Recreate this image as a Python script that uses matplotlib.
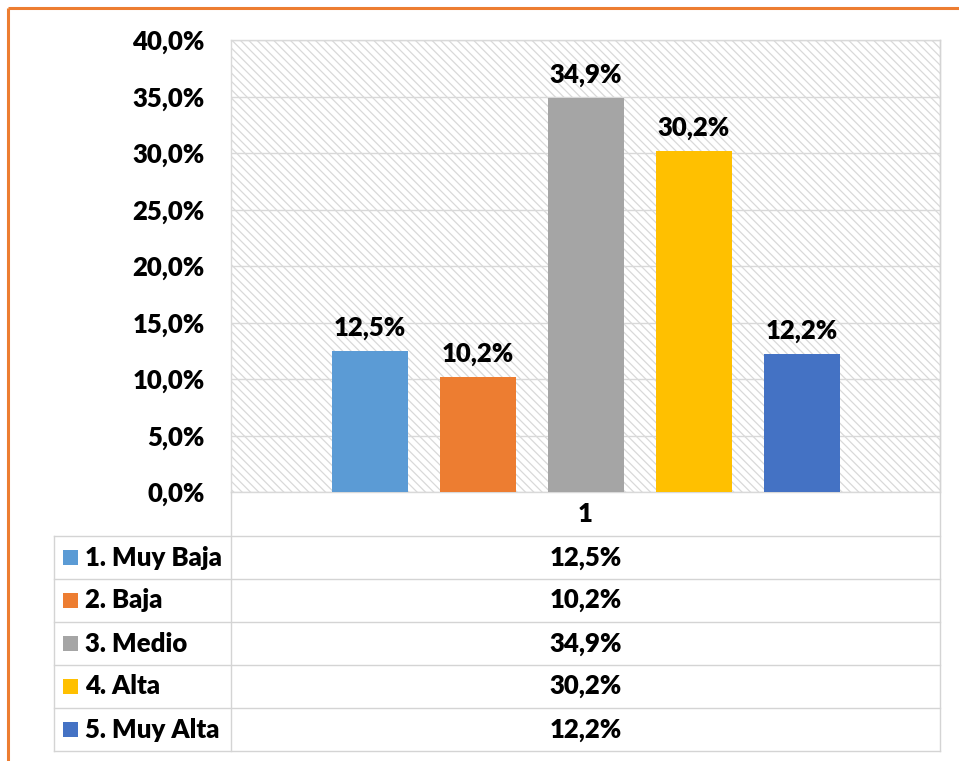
import matplotlib
matplotlib.use('Agg')
import matplotlib.pyplot as plt
from matplotlib.patches import Rectangle
from matplotlib.ticker import FuncFormatter

categories = ['1. Muy Baja', '2. Baja', '3. Medio', '4. Alta', '5. Muy Alta']
values = [12.5, 10.2, 34.9, 30.2, 12.2]
colors = ['#5B9BD5', '#ED7D31', '#A5A5A5', '#FFC000', '#4472C4']
group_label = '1'
y_ticks = [0, 5, 10, 15, 20, 25, 30, 35, 40]


def pct(v):
    return f'{v:.1f}'.replace('.', ',') + '%'


W, H = 959, 761
plt.rcParams['hatch.linewidth'] = 0.9
FONT = ['Lato', 'DejaVu Sans']
FS = 18.5
FW = 'heavy'
fig = plt.figure(figsize=(W / 100, H / 100), dpi=100)
grey = '#d9d9d9'

x0, x1, ytop, ybot = 231, 940, 40, 492
ax = fig.add_axes([x0 / W, 1 - ybot / H, (x1 - x0) / W, (ybot - ytop) / H])
ax.set_xlim(-0.5, 0.5)
ax.set_ylim(0, 40)
ax.add_patch(Rectangle((0, 0), 1, 1, transform=ax.transAxes, facecolor='white',
                       edgecolor='#d9d9d9', hatch='\\\\\\\\', lw=0, zorder=0))
step = 108 / 709
width = 76 / 709
positions = [(i - (len(values) - 1) / 2) * step for i in range(len(values))]
bars = ax.bar(positions, values, width=width, color=colors, zorder=3)
for p, v in zip(positions, values):
    ax.annotate(pct(v), (p, v), xytext=(0, 8), textcoords='offset points',
                ha='center', va='bottom', fontsize=FS, fontweight=FW, family=FONT)
ax.set_yticks(y_ticks)
ax.yaxis.set_major_formatter(FuncFormatter(lambda v, _: pct(v)))
ax.set_xticks([])
ax.grid(axis='y', color=grey, lw=1)
ax.set_axisbelow(True)
ax.tick_params(axis='y', length=0, pad=19, labelsize=FS)
for lab in ax.get_yticklabels():
    lab.set_fontweight(FW)
    lab.set_family(FONT)
for s in ax.spines.values():
    s.set_color(grey)
    s.set_linewidth(1)

# data table overlay
ov = fig.add_axes([0, 0, 1, 1])
ov.set_xlim(0, W)
ov.set_ylim(H, 0)
ov.axis('off')
ov.patch.set_alpha(0)

tc = '#d4d4d4'
row_top = 536
row_h = 43
n = len(categories)
bottom = row_top + n * row_h
ov.plot([54, 54], [row_top, bottom], color=tc, lw=1)
ov.plot([x0, x0], [ybot, bottom], color=tc, lw=1)
ov.plot([x1, x1], [ytop, bottom], color=tc, lw=1)
for k in range(n + 1):
    yy = row_top + k * row_h
    ov.plot([54, x1], [yy, yy], color=tc, lw=1)

cx = (x0 + x1) / 2
ov.text(cx, (ybot + row_top) / 2, group_label, ha='center', va='center',
        fontsize=FS, fontweight=FW, family=FONT)
for k, (cat, v, c) in enumerate(zip(categories, values, colors)):
    yc = row_top + k * row_h + row_h / 2
    ov.add_patch(Rectangle((63, yc - 7.5), 15, 15, facecolor=c, edgecolor='none'))
    ov.text(85, yc, cat, ha='left', va='center', fontsize=FS, fontweight=FW, family=FONT)
    ov.text(cx, yc, pct(v), ha='center', va='center', fontsize=FS, fontweight=FW, family=FONT)

ov.plot([8, W], [8, 8], color='#ED7D31', lw=2.2, solid_capstyle='butt')
ov.plot([8, 8], [8, H], color='#ED7D31', lw=2.2, solid_capstyle='butt')

fig.savefig('out.png', dpi=100)
